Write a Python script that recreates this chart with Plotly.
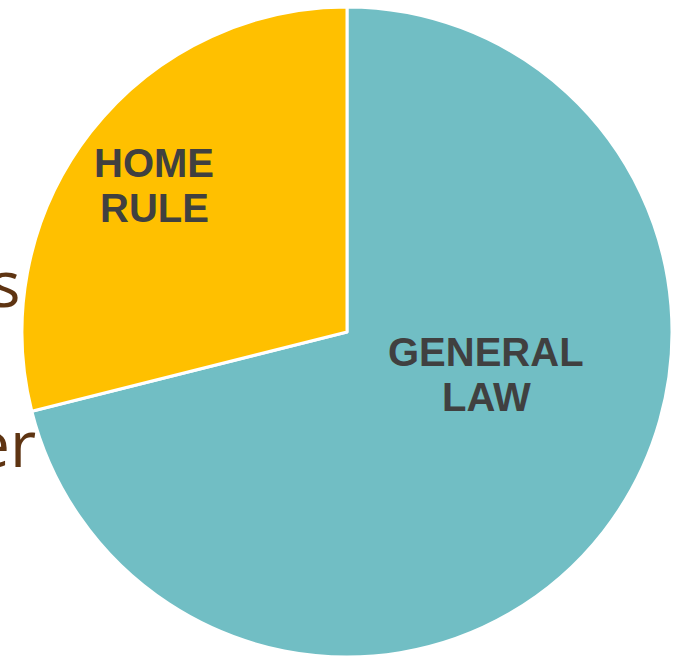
import plotly.graph_objects as go

categories = ["GENERAL LAW", "HOME RULE"]
label_lines = [["GENERAL", "LAW"], ["HOME", "RULE"]]
values = [865, 352]
colors = ["#71BEC4", "#FFC000"]
bg_text = ["s", "er"]

W, H = 675, 657
cx, cy, r = 347, 332, 325

fig = go.Figure(go.Pie(
    labels=categories,
    values=values,
    sort=False,
    direction="clockwise",
    rotation=0,
    marker=dict(colors=colors, line=dict(color="white", width=3)),
    textinfo="none",
    hoverinfo="label+value",
    domain=dict(x=[(cx - r) / W, (cx + r) / W], y=[(H - cy - r) / H, (H - cy + r) / H]),
    showlegend=False,
))

def px(x, y):
    return x / W, 1 - y / H

annotations = []
# background text partly hidden by the pie (cut at the left edge, as in the reference)
for t, (x, y) in zip(bg_text, [(23, 282), (38, 442)]):
    ax, ay = px(x, y)
    annotations.append(dict(text=t, x=ax, y=ay, xref="paper", yref="paper",
                            xanchor="right", yanchor="middle", showarrow=False,
                            font=dict(family="Open Sans", size=64, color="#5E3412")))

label_pos = [[(486, 352), (486, 397)], [(154, 163), (154, 208)]]
for lines, poss in zip(label_lines, label_pos):
    for t, (x, y) in zip(lines, poss):
        ax, ay = px(x, y)
        annotations.append(dict(text="<b>" + t + "</b>", x=ax, y=ay, xref="paper", yref="paper",
                                xanchor="center", yanchor="middle", showarrow=False,
                                font=dict(family="Liberation Sans, Arial", size=40, color="#404040")))

fig.update_layout(
    width=W, height=H,
    margin=dict(l=0, r=0, t=0, b=0),
    paper_bgcolor="white",
    plot_bgcolor="white",
    annotations=annotations,
)

fig.write_html("out.html", config={"displayModeBar": False},
               post_script="document.body.style.margin='0';document.body.style.overflow='hidden';")
